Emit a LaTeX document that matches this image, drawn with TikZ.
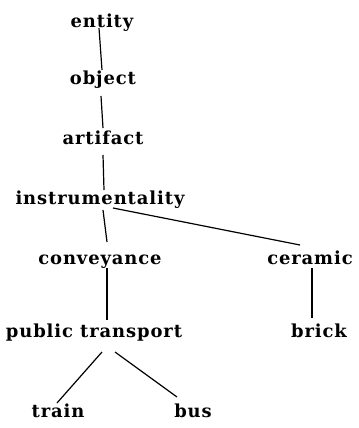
\documentclass[tikz,border=0pt]{standalone}
\usepackage{fontspec}
\setmainfont{DejaVu Serif}[LetterSpace=5]
\begin{document}
\begin{tikzpicture}[x=1bp,y=-1bp]
	\tikzset{word/.style={inner sep=0pt,anchor=base,font=\fontsize{18}{20}\selectfont\bfseries}}
	\tikzset{link/.style={black,line width=1.2bp}}
	\useasboundingbox (0,0) rectangle (359,428);
	% the words
	\node [word] (entity) at (102,27) {entity};
	\node [word] (object) at (103,84) {object};
	\node [word] (artifact) at (103,144) {artifact};
	\node [word] (instrumentality) at (100,204) {instrumentality};
	\node [word] (conveyance) at (100,264) {conveyance};
	\node [word] (ceramic) at (310,264) {ceramic};
	\node [word] (publictransport) at (94,337) {public transport};
	\node [word] (brick) at (319,337) {brick};
	\node [word] (train) at (58,417) {train};
	\node [word] (bus) at (193,417) {bus};
	% the links
	\draw [link] ([shift={(-3,1)}]entity.base) -- ([shift={(-1,-14)}]object.base);
	\draw [link] ([shift={(-2,12)}]object.base) -- ([shift={(0,-16)}]artifact.base);
	\draw [link] ([shift={(0,11)}]artifact.base) -- ([shift={(4,-14)}]instrumentality.base);
	\draw [link] ([shift={(3,6)}]instrumentality.base) -- ([shift={(7,-22)}]conveyance.base);
	\draw [link] ([shift={(13,4)}]instrumentality.base) -- ([shift={(-10,-19)}]ceramic.base);
	\draw [link] ([shift={(7,4)}]conveyance.base) -- ([shift={(13,-17)}]publictransport.base);
	\draw [link] ([shift={(2,4)}]ceramic.base) -- ([shift={(-7,-19)}]brick.base);
	\draw [link] ([shift={(8,15)}]publictransport.base) -- ([shift={(-1,-14)}]train.base);
	\draw [link] ([shift={(21,15)}]publictransport.base) -- ([shift={(-16,-20)}]bus.base);
\end{tikzpicture}
\end{document}
